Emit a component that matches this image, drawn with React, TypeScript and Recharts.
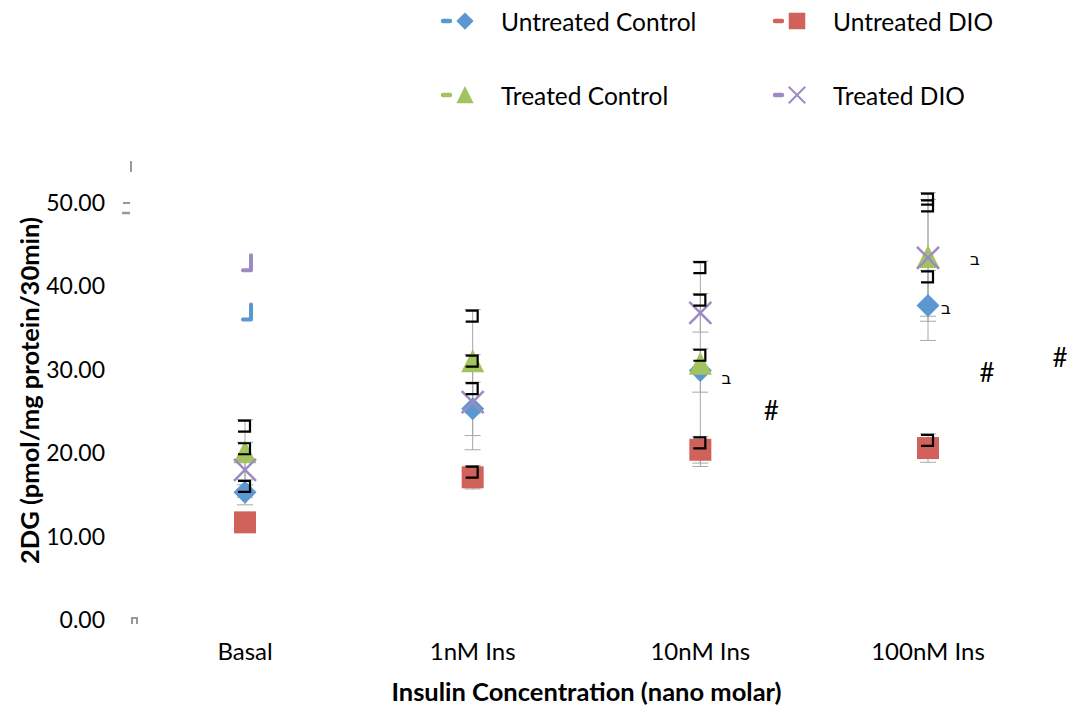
import { ComposedChart, Scatter, XAxis, YAxis, ErrorBar, Legend, ReferenceDot, Label } from "recharts"

const FONT = "Lato, 'Open Sans', sans-serif"

const BLUE = "#5b97d0"
const RED = "#d0625b"
const GREEN = "#a2c35f"
const PURPLE = "#9e89c2"

// x categories and y ticks
const categories = ["Basal", "1nM Ins", "10nM Ins", "100nM Ins"]
const yTicks = [0, 10, 20, 30, 40, 50]

// means and SEM
const untreatedControl = [15.3, 25.3, 29.9, 37.7]
const untreatedControlErr = [1.5, 3.2, 2.6, 4.2]
const untreatedDIO = [11.7, 17.1, 20.4, 20.6]
const untreatedDIOErr = [0, 1.4, 1.6, 1.7]
const treatedControl = [20.1, 31.0, 30.7, 43.5]
const treatedControlErr = [3.9, 6.2, 12.3, 7.7]
const treatedDIO = [18.0, 26.1, 36.8, 43.4]
const treatedDIOErr = [3.3, 5.7, 2.3, 7.0]

// significance marks
const noteCategory = ["10nM Ins", "10nM Ins", "100nM Ins", "100nM Ins", "100nM Ins", "100nM Ins"]
const noteValue = [29.0, 25.1, 37.4, 43.2, 29.6, 31.4]
const noteText = ["ב", "#", "ב", "ב", "#", "#"]
const noteShift = [26, 71, 18, 47, 59, 132]

// stray legend marks left over on the Basal column
const strayValue = [36.0, 41.9]
const strayColor = [BLUE, PURPLE]

const rows = categories.map((name, i) => ({
  name,
  uc: untreatedControl[i],
  ucErr: untreatedControlErr[i],
  ucHi: untreatedControl[i] + untreatedControlErr[i],
  ud: untreatedDIO[i],
  udErr: untreatedDIOErr[i],
  udHi: untreatedDIO[i] + untreatedDIOErr[i],
  tc: treatedControl[i],
  tcErr: treatedControlErr[i],
  tcHi: treatedControl[i] + treatedControlErr[i],
  td: treatedDIO[i],
  tdErr: treatedDIOErr[i],
  tdHi: treatedDIO[i] + treatedDIOErr[i],
}))

// eslint-disable-next-line @typescript-eslint/no-explicit-any
const empty = (_: any) => <g />

// eslint-disable-next-line @typescript-eslint/no-explicit-any
const Diamond = ({ cx, cy }: any) => (
  <path d={`M${cx},${cy - 11.5}L${cx + 11.5},${cy}L${cx},${cy + 11.5}L${cx - 11.5},${cy}Z`} fill={BLUE} />
)
// eslint-disable-next-line @typescript-eslint/no-explicit-any
const Square = ({ cx, cy }: any) => <rect x={cx - 11} y={cy - 11} width={22} height={22} fill={RED} />
// eslint-disable-next-line @typescript-eslint/no-explicit-any
const Triangle = ({ cx, cy }: any) => (
  <path d={`M${cx},${cy - 12}L${cx + 11.5},${cy + 11}L${cx - 11.5},${cy + 11}Z`} fill={GREEN} />
)
// eslint-disable-next-line @typescript-eslint/no-explicit-any
const Cross = ({ cx, cy }: any) => (
  <path
    d={`M${cx - 11},${cy - 11}L${cx + 11},${cy + 11}M${cx + 11},${cy - 11}L${cx - 11},${cy + 11}`}
    stroke={PURPLE}
    strokeWidth={2.5}
  />
)

// black bracket drawn at the top of each error bar
const capGlyph = (errKey: string) =>
  // eslint-disable-next-line @typescript-eslint/no-explicit-any
  ({ cx, cy, payload }: any) => {
    if (!payload?.[errKey]) return <g />
    return <path d={`M${cx - 7},${cy + 1}H${cx + 5}V${cy + 12}H${cx - 7}`} fill="none" stroke="#000" strokeWidth={2.2} />
  }

const legendItems = [
  { name: "Untreated Control", color: BLUE, Mark: Diamond },
  { name: "Untreated DIO", color: RED, Mark: Square },
  { name: "Treated Control", color: GREEN, Mark: Triangle },
  { name: "Treated DIO", color: PURPLE, Mark: Cross },
]

function ChartLegend() {
  return (
    <div style={{ display: "grid", gridTemplateColumns: "332px 332px", gridAutoRows: "74px", fontFamily: FONT, fontSize: 24.5 }}>
      {legendItems.map(({ name, color, Mark }) => (
        <div key={name} style={{ display: "flex", alignItems: "center", height: 42 }}>
          <svg width={63} height={30} style={{ overflow: "visible", flex: "none" }}>
            <line x1={5} y1={15} x2={12} y2={15} stroke={color} strokeWidth={4.5} strokeLinecap="round" />
            <g transform="translate(27,15) scale(0.75)">
              <Mark cx={0} cy={0} />
            </g>
          </svg>
          <span style={{ color: "#000", whiteSpace: "nowrap" }}>{name}</span>
        </div>
      ))}
    </div>
  )
}

// eslint-disable-next-line @typescript-eslint/no-explicit-any
const YTick = ({ x, y, payload }: any) => (
  <text x={x - 18} y={y} dy="0.35em" textAnchor="end" fontFamily={FONT} fontSize={23} fill="#000">
    {Number(payload.value).toFixed(2)}
  </text>
)
// eslint-disable-next-line @typescript-eslint/no-explicit-any
const XTick = ({ x, y, payload }: any) => (
  <text x={x} y={y + 24} dy="0.35em" textAnchor="middle" fontFamily={FONT} fontSize={24} fill="#000">
    {payload.value}
  </text>
)

// eslint-disable-next-line @typescript-eslint/no-explicit-any
const YAxisArtifacts = ({ viewBox }: any) => {
  const x = viewBox.x + viewBox.width
  const top = viewBox.y
  const bottom = viewBox.y + viewBox.height
  return (
    <g stroke="#999" fill="none" strokeWidth={2}>
      <line x1={x} y1={top} x2={x} y2={top + 11} />
      <line x1={x - 8} y1={top + 42} x2={x - 1} y2={top + 42} />
      <line x1={x - 9} y1={top + 52} x2={x - 1} y2={top + 52} strokeWidth={2.5} />
      <path d={`M${x + 1},${bottom + 4}V${bottom - 2}H${x + 6}V${bottom + 4}`} />
    </g>
  )
}

export default function App() {
  return (
    <div style={{ position: "absolute", left: 0, top: 0, background: "#fff" }}>
      <ComposedChart width={1070} height={707} data={rows} margin={{ top: 161, right: 28, bottom: 0, left: 0 }}>
        <XAxis
          dataKey="name"
          axisLine={false}
          tickLine={false}
          height={87}
          tick={<XTick />}
          interval={0}
          padding={{ left: 114, right: 114 }}
        >
          <Label
            // eslint-disable-next-line @typescript-eslint/no-explicit-any
            content={({ viewBox }: any) => (
              <text
                x={viewBox.x + viewBox.width / 2}
                y={viewBox.y + 72}
                dy="0.35em"
                textAnchor="middle"
                fontFamily={FONT}
                fontWeight="bold"
                fontSize={25.5}
              >
                Insulin Concentration (nano molar)
              </text>
            )}
          />
        </XAxis>
        <YAxis
          domain={[0, 55]}
          ticks={yTicks}
          axisLine={false}
          tickLine={false}
          width={131}
          tick={<YTick />}
          interval={0}
        >
          <Label content={<YAxisArtifacts />} />
          <Label
            // eslint-disable-next-line @typescript-eslint/no-explicit-any
            content={({ viewBox }: any) => {
              const cx = viewBox.x + 30
              const cy = viewBox.y + viewBox.height / 2
              return (
                <text
                  x={cx}
                  y={cy}
                  dy="0.35em"
                  textAnchor="middle"
                  transform={`rotate(-90, ${cx}, ${cy})`}
                  fontFamily={FONT}
                  fontWeight="bold"
                  fontSize={25.5}
                >
                  2DG (pmol/mg protein/30min)
                </text>
              )
            }}
          />
        </YAxis>
        <Legend
          layout="horizontal"
          verticalAlign="middle"
          align="center"
          wrapperStyle={{ top: 0, left: 438, width: 664 }}
          content={<ChartLegend />}
        />

        {/* error bars first so markers sit on top */}
        <Scatter dataKey="uc" shape={empty} legendType="none" isAnimationActive={false}>
          <ErrorBar dataKey="ucErr" direction="y" width={8} stroke="#a8a8a8" strokeWidth={1} />
        </Scatter>
        <Scatter dataKey="ud" shape={empty} legendType="none" isAnimationActive={false}>
          <ErrorBar dataKey="udErr" direction="y" width={8} stroke="#a8a8a8" strokeWidth={1} />
        </Scatter>
        <Scatter dataKey="tc" shape={empty} legendType="none" isAnimationActive={false}>
          <ErrorBar dataKey="tcErr" direction="y" width={8} stroke="#a8a8a8" strokeWidth={1} />
        </Scatter>
        <Scatter dataKey="td" shape={empty} legendType="none" isAnimationActive={false}>
          <ErrorBar dataKey="tdErr" direction="y" width={8} stroke="#a8a8a8" strokeWidth={1} />
        </Scatter>

        <Scatter name="Untreated Control" dataKey="uc" shape={Diamond} isAnimationActive={false} />
        <Scatter name="Untreated DIO" dataKey="ud" shape={Square} isAnimationActive={false} />
        <Scatter name="Treated Control" dataKey="tc" shape={Triangle} isAnimationActive={false} />
        <Scatter name="Treated DIO" dataKey="td" shape={Cross} isAnimationActive={false} />

        <Scatter dataKey="ucHi" shape={capGlyph("ucErr")} legendType="none" isAnimationActive={false} />
        <Scatter dataKey="udHi" shape={capGlyph("udErr")} legendType="none" isAnimationActive={false} />
        <Scatter dataKey="tcHi" shape={capGlyph("tcErr")} legendType="none" isAnimationActive={false} />
        <Scatter dataKey="tdHi" shape={capGlyph("tdErr")} legendType="none" isAnimationActive={false} />

        {strayValue.map((v, i) => (
          <ReferenceDot
            key={`stray-${i}`}
            x="Basal"
            y={v}
            ifOverflow="visible"
            // eslint-disable-next-line @typescript-eslint/no-explicit-any
            shape={({ cx, cy }: any) => (
              <path
                d={`M${cx + 6},${cy - 15}V${cy}H${cx - 2}`}
                fill="none"
                stroke={strayColor[i]}
                strokeWidth={4}
                strokeLinecap="round"
                strokeLinejoin="round"
              />
            )}
          />
        ))}

        {noteValue.map((v, i) => (
          <ReferenceDot
            key={`note-${i}`}
            x={noteCategory[i]}
            y={v}
            ifOverflow="visible"
            // eslint-disable-next-line @typescript-eslint/no-explicit-any
            shape={({ cx, cy }: any) => (
              <text
                x={cx + noteShift[i]}
                y={cy}
                dy="0.35em"
                textAnchor="middle"
                fontFamily={noteText[i] === "#" ? FONT : "'DejaVu Sans', sans-serif"}
                fontSize={noteText[i] === "#" ? 26 : 17}
                fill="#000"
              >
                {noteText[i]}
              </text>
            )}
          />
        ))}
      </ComposedChart>
    </div>
  )
}
